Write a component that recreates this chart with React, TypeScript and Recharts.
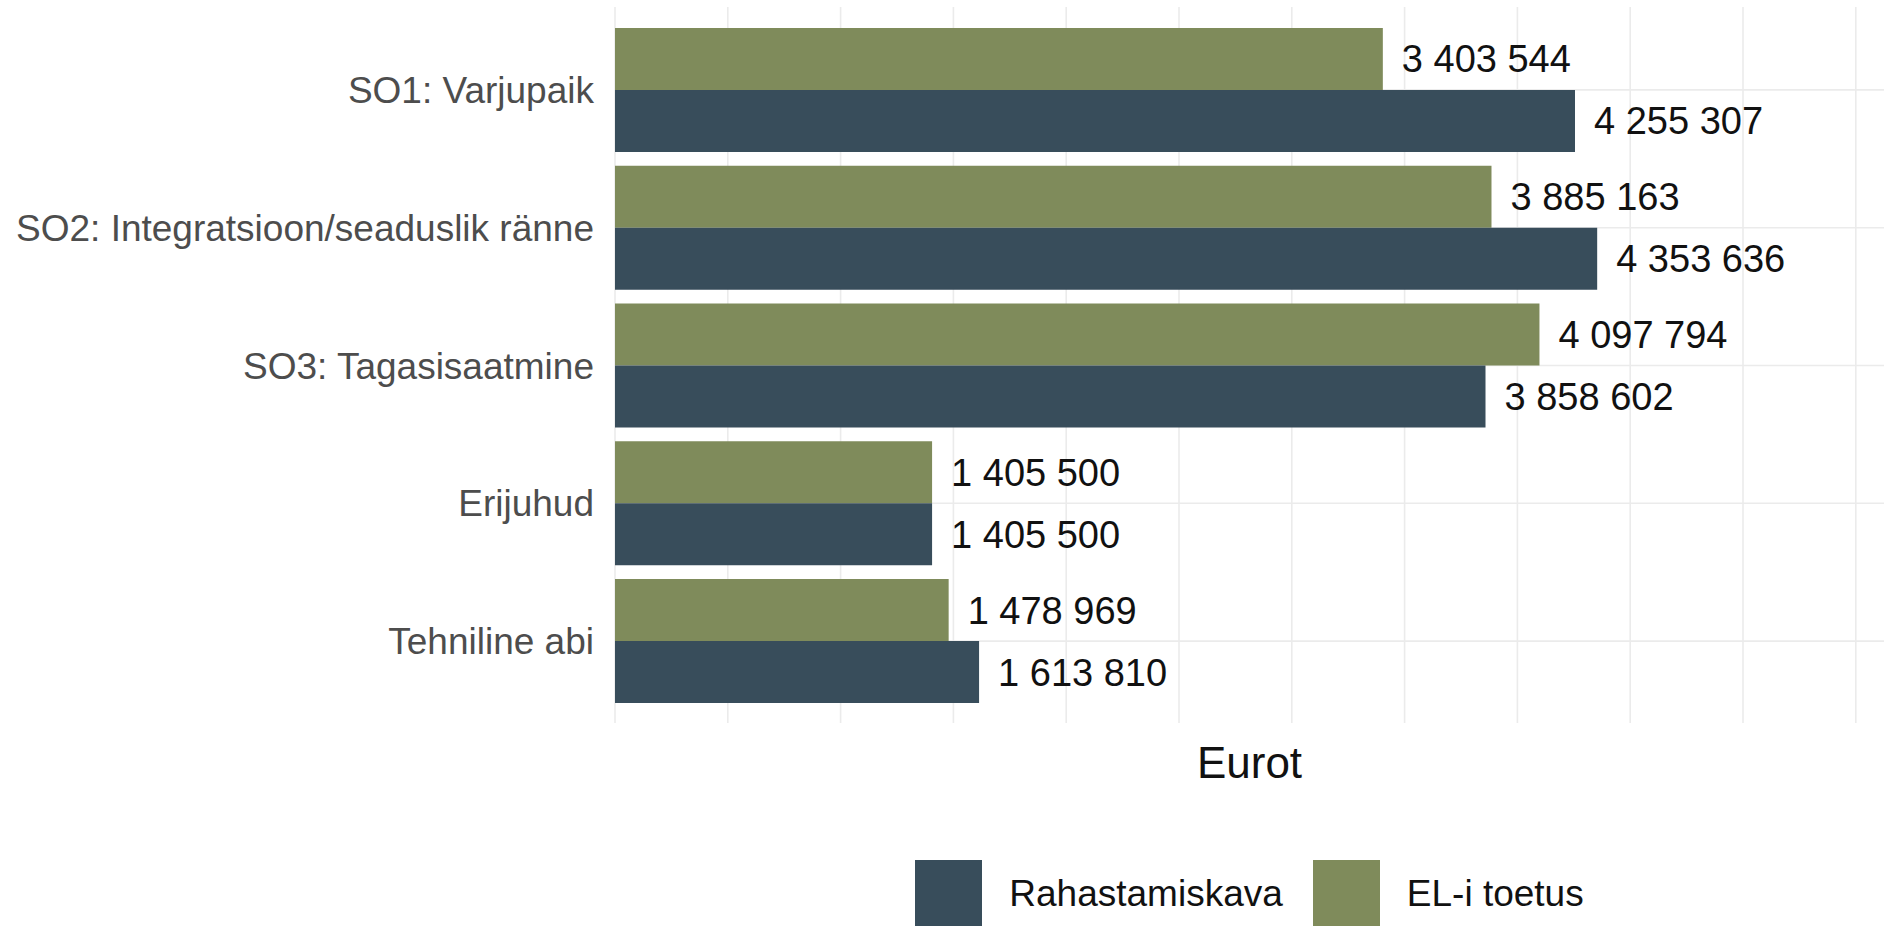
import React from "react";
import {
  Bar,
  BarChart,
  CartesianGrid,
  LabelList,
  Label,
  Legend,
  XAxis,
  YAxis,
} from "recharts";

const categories = [
  "SO1: Varjupaik",
  "SO2: Integratsioon/seaduslik ränne",
  "SO3: Tagasisaatmine",
  "Erijuhud",
  "Tehniline abi",
];

const rahastamiskava = [4255307, 4353636, 3858602, 1405500, 1613810];
const elToetus = [3403544, 3885163, 4097794, 1405500, 1478969];

const xTicks = [
  0, 500000, 1000000, 1500000, 2000000, 2500000, 3000000, 3500000, 4000000,
  4500000, 5000000, 5500000,
];

const series = [
  { key: "rahastamiskava", name: "Rahastamiskava", color: "#384d5b" },
  { key: "elToetus", name: "EL-i toetus", color: "#7f8b5b" },
];

const data = categories.map((name, i) => ({
  name,
  rahastamiskava: rahastamiskava[i],
  elToetus: elToetus[i],
}));

const font = "'Liberation Sans', Arial, sans-serif";

const fmt = (v: any) => String(v).replace(/\B(?=(\d{3})+(?!\d))/g, " ");

function LegendContent() {
  return (
    <div
      style={{
        display: "flex",
        justifyContent: "center",
        alignItems: "center",
        height: 65,
        fontFamily: font,
        fontSize: 37,
        color: "#111",
      }}
    >
      {series.map((s, i) => (
        <div
          key={s.key}
          style={{ display: "flex", alignItems: "center", marginLeft: i ? 30 : 0 }}
        >
          <div style={{ width: 67, height: 67, background: s.color }} />
          <span style={{ marginLeft: 27 }}>{s.name}</span>
        </div>
      ))}
    </div>
  );
}

export default function App() {
  const el = series[1];
  const r = series[0];
  return (
    <div style={{ position: "absolute", left: 0, top: 0, background: "#fff" }}>
      <BarChart
        width={1884}
        height={926}
        data={data}
        layout="vertical"
        margin={{ top: 7, right: 0, bottom: 0, left: 0 }}
        barCategoryGap="5%"
        barGap={0}
      >
        {/* syncWithTicks: no extra lines on the panel edges */}
        <CartesianGrid stroke="#ebebeb" strokeWidth={1.6} syncWithTicks />
        <XAxis
          type="number"
          domain={[0, 5625000]}
          ticks={xTicks}
          tick={{ fill: "transparent", fontSize: 10 }}
          axisLine={false}
          tickLine={false}
          height={138}
        >
          <Label
            value="Eurot"
            position="insideTop"
            offset={24}
            style={{ fontFamily: font, fontSize: 44, fill: "#111" }}
          />
        </XAxis>
        <YAxis
          type="category"
          dataKey="name"
          width={615}
          axisLine={false}
          tickLine={false}
          tickSize={0}
          tickMargin={21}
          padding={{ top: 14, bottom: 13 }}
          tick={{ fill: "#4d4d4d", fontSize: 37, fontFamily: font }}
          interval={0}
        />
        <Legend
          verticalAlign="bottom"
          content={() => <LegendContent />}
          wrapperStyle={{ left: 615, width: 1269 }}
        />
        <Bar dataKey={el.key} name={el.name} fill={el.color} isAnimationActive={false}>
          <LabelList
            dataKey={el.key}
            position="right"
            offset={19}
            formatter={fmt}
            style={{ fontFamily: font, fontSize: 38, fill: "#111" }}
          />
        </Bar>
        <Bar dataKey={r.key} name={r.name} fill={r.color} isAnimationActive={false}>
          <LabelList
            dataKey={r.key}
            position="right"
            offset={19}
            formatter={fmt}
            style={{ fontFamily: font, fontSize: 38, fill: "#111" }}
          />
        </Bar>
      </BarChart>
    </div>
  );
}
